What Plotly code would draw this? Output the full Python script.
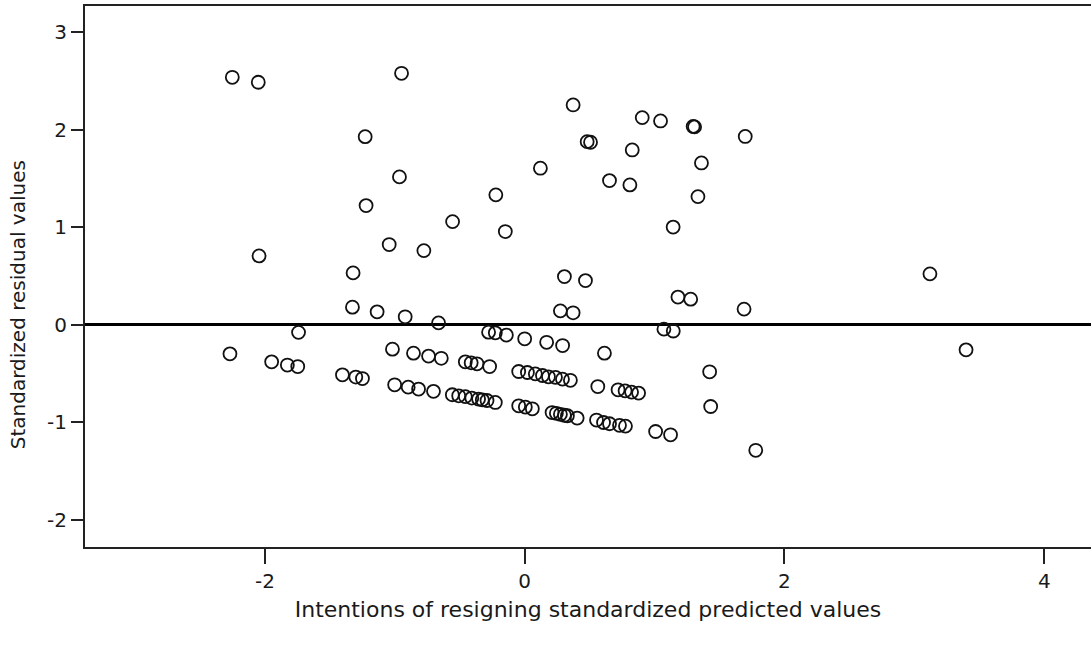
import plotly.graph_objects as go

predicted = [
    -2.251, -2.051, -0.948, 0.373, -1.228, 0.905, 1.046, 1.297, 1.308, 1.698,
    0.481, 0.507, 0.828, -0.964, 0.121, 0.653, 0.810, 1.361, 1.334, -0.222,
    -1.221, -0.555, -0.149, -1.043, -0.776, 1.143, -2.045, -1.321, 0.306, 0.468,
    3.120, -1.326, -1.136, -0.920, -0.663, 0.275, 0.373, 1.180, 1.278, 1.689,
    -1.741, -2.269, -1.948, -1.827, -1.747, -1.403, -1.300, -1.249, -1.018, -1.001,
    -0.897, -0.856, -0.740, -0.642, -0.457, -0.367, -0.270, -0.278, -0.226, -0.141,
    0.000, 0.169, 0.292, 1.072, 1.144, -0.046, 0.021, 0.082, 0.137, 0.183,
    0.237, 0.291, 0.352, 0.614, 0.563, 0.719, 0.773, 0.823, 0.877, 1.424,
    1.432, 1.779, 3.398, -0.817, -0.702, -0.557, -0.508, -0.457, -0.407, -0.355,
    -0.326, -0.290, -0.226, -0.046, 0.005, 0.059, 0.211, 0.244, 0.275, 0.306,
    0.329, 0.404, 0.553, 0.607, 0.653, 0.730, 0.776, 1.008, 1.123, -0.412,
]
residual = [
    2.535, 2.484, 2.576, 2.252, 1.927, 2.122, 2.088, 2.032, 2.027, 1.929,
    1.876, 1.870, 1.791, 1.515, 1.604, 1.477, 1.433, 1.658, 1.313, 1.331,
    1.221, 1.057, 0.955, 0.822, 0.760, 1.001, 0.706, 0.532, 0.494, 0.453,
    0.522, 0.181, 0.133, 0.082, 0.020, 0.143, 0.123, 0.284, 0.263, 0.161,
    -0.077, -0.297, -0.379, -0.412, -0.427, -0.512, -0.535, -0.550, -0.249, -0.614,
    -0.638, -0.290, -0.320, -0.343, -0.379, -0.399, -0.427, -0.075, -0.082, -0.105,
    -0.143, -0.179, -0.212, -0.044, -0.063, -0.478, -0.488, -0.502, -0.519, -0.532,
    -0.537, -0.556, -0.568, -0.290, -0.632, -0.665, -0.676, -0.689, -0.699, -0.481,
    -0.836, -1.285, -0.256, -0.658, -0.681, -0.716, -0.727, -0.735, -0.750, -0.760,
    -0.768, -0.775, -0.795, -0.829, -0.842, -0.860, -0.898, -0.906, -0.916, -0.926,
    -0.931, -0.955, -0.975, -1.000, -1.013, -1.029, -1.037, -1.092, -1.126, -0.389,
]

x_ticks = [-2, 0, 2, 4]
y_ticks = [-2, -1, 0, 1, 2, 3]

FONT = "DejaVu Sans"
TXT = "#1a1a1a"

fig = go.Figure()
fig.add_trace(go.Scatter(
    x=predicted, y=residual, mode="markers",
    marker=dict(symbol="circle-open", size=13, color="#111111",
                line=dict(width=1.8, color="#111111")),
    showlegend=False, hoverinfo="x+y",
))

fig.update_layout(
    width=1091, height=649,
    margin=dict(l=85, r=0, t=6, b=102),
    paper_bgcolor="white", plot_bgcolor="white",
    font=dict(family=FONT, size=20, color=TXT),
    xaxis=dict(
        range=[-3.385, 4.36], tickvals=x_ticks, ticktext=[str(v) for v in x_ticks],
        showgrid=False, zeroline=False,
        showline=True, linecolor="#222222", linewidth=2, mirror=True,
        ticks="outside", ticklen=15, tickwidth=2, tickcolor="#222222",
        tickfont=dict(family=FONT, size=20, color=TXT),
        title=dict(text="Intentions of resigning standardized predicted values",
                   font=dict(family=FONT, size=22, color=TXT), standoff=10),
    ),
    yaxis=dict(
        range=[-2.275, 3.265], tickvals=y_ticks, ticktext=[str(v) for v in y_ticks],
        showgrid=False, zeroline=True, zerolinecolor="#000000", zerolinewidth=3,
        showline=True, linecolor="#222222", linewidth=2,
        ticks="outside", ticklen=12, tickwidth=2, tickcolor="#222222",
        tickfont=dict(family=FONT, size=20, color=TXT),
    ),
    annotations=[dict(
        text="Standardized residual values", textangle=-90,
        xref="paper", yref="paper", x=-0.0666, y=0.447,
        xanchor="center", yanchor="middle", showarrow=False,
        font=dict(family=FONT, size=20, color=TXT),
    )],
)

fig.write_html("out.html")
